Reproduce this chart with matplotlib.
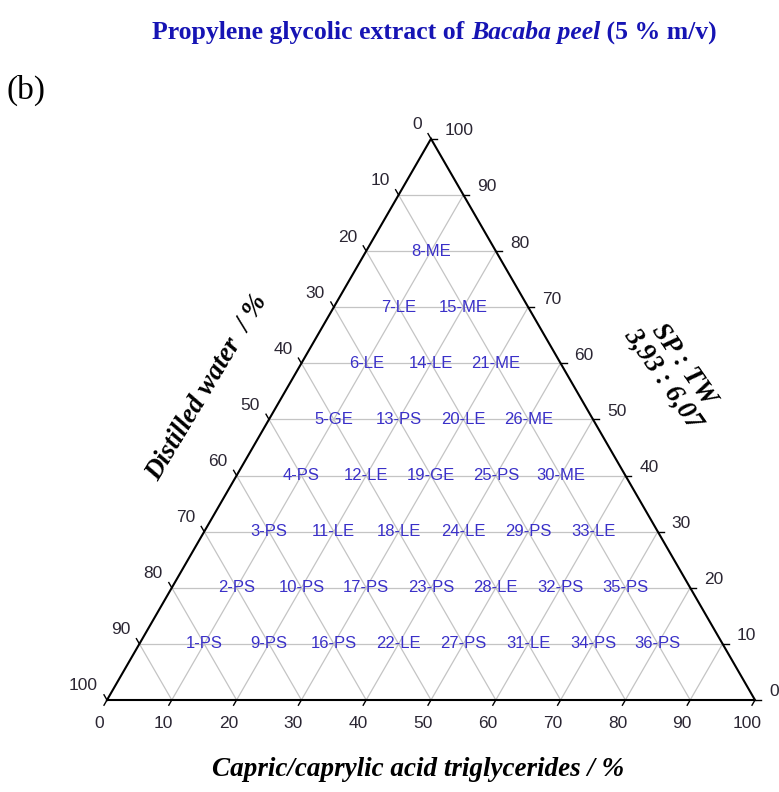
import numpy as np
import matplotlib
matplotlib.use("Agg")
import matplotlib.pyplot as plt

# ---------------- data ----------------
sample_ids = list(range(1, 37))
sp_tw = [10, 20, 30, 40, 50, 60, 70, 80,
         10, 20, 30, 40, 50, 60, 70,
         10, 20, 30, 40, 50, 60,
         10, 20, 30, 40, 50,
         10, 20, 30, 40,
         10, 20, 30,
         10, 20,
         10]
oil = [10] * 8 + [20] * 7 + [30] * 6 + [40] * 5 + [50] * 4 + [60] * 3 + [70] * 2 + [80]
water = [100 - s - o for s, o in zip(sp_tw, oil)]
phases = ["PS", "PS", "PS", "PS", "GE", "LE", "LE", "ME",
          "PS", "PS", "LE", "LE", "PS", "LE", "ME",
          "PS", "PS", "LE", "GE", "LE", "ME",
          "LE", "PS", "LE", "PS", "ME",
          "PS", "LE", "PS", "ME",
          "LE", "PS", "LE",
          "PS", "PS",
          "PS"]
tick_values = list(range(0, 101, 10))

title_parts = ("Propylene glycolic extract of ", "Bacaba peel", " (5 % m/v)")
panel_label = "(b)"
left_title = "Distilled water  / %"
right_title = "SP : TW\n3,93 : 6,07"
bottom_title = "Capric/caprylic acid triglycerides / %"

# ---------------- helpers ----------------
H = np.sqrt(3) / 2


def tern(top, right):
    """top = SP:TW %, right = oil %  -> cartesian"""
    top = np.asarray(top, float) / 100.0
    right = np.asarray(right, float) / 100.0
    return right + top / 2.0, top * H


W_PX, H_PX = 779, 792
fig = plt.figure(figsize=(W_PX / 100, H_PX / 100), dpi=100)
ax = fig.add_axes([0, 0, 1, 1])
scale = 648.0
x0_px, y0_px = 107.0, 700.0  # bottom-left vertex in pixels (from top)
ax.set_xlim(-x0_px / scale, (W_PX - x0_px) / scale)
ax.set_ylim(-(H_PX - y0_px) / scale, y0_px / scale)
ax.axis("off")

grid_c = "#c4c4c4"
tick_c = "#2b2633"
lab_c = "#3a30c8"

# grid lines
for v in tick_values[1:-1]:
    xa, ya = tern(v, 0)
    xb, yb = tern(v, 100 - v)
    ax.plot([xa, xb], [ya, yb], color=grid_c, lw=0.9, zorder=1)
    xa, ya = tern(0, v)
    xb, yb = tern(100 - v, v)
    ax.plot([xa, xb], [ya, yb], color=grid_c, lw=0.9, zorder=1)
    xa, ya = tern(0, 100 - v)
    xb, yb = tern(100 - v, 0)
    ax.plot([xa, xb], [ya, yb], color=grid_c, lw=0.9, zorder=1)

# triangle
tx, ty = tern([0, 0, 100, 0], [0, 100, 0, 0])
ax.plot(tx, ty, color="black", lw=1.5, zorder=3, solid_joinstyle="miter")

tl = 6.0 / scale
tick_fs = 12.5
for v in tick_values:
    x, y = tern(100 - v, 0)
    ax.plot([x, x - 0.5 * tl], [y, y + H * tl], color="black", lw=1.0, zorder=3)
    ax.annotate(str(v), (x, y), xytext=(-9, 14), textcoords="offset pixels",
                ha="right", va="center", fontsize=tick_fs, color=tick_c,
                family="Liberation Sans")
    x, y = tern(v, 100 - v)
    ax.plot([x, x + tl], [y, y], color="black", lw=1.0, zorder=3)
    ax.annotate(str(v), (x, y), xytext=(14, 8), textcoords="offset pixels",
                ha="left", va="center", fontsize=tick_fs, color=tick_c,
                family="Liberation Sans")
    x, y = tern(0, v)
    ax.plot([x, x - 0.5 * tl], [y, y - H * tl], color="black", lw=1.0, zorder=3)
    ax.annotate(str(v), (x, y), xytext=(-8, -24), textcoords="offset pixels",
                ha="center", va="center", fontsize=tick_fs, color=tick_c,
                family="Liberation Sans")

# sample labels
px, py = tern(sp_tw, oil)
for sid, ph, xx, yy in zip(sample_ids, phases, px, py):
    ax.text(xx, yy, f"{sid}-{ph}", ha="center", va="center", fontsize=12,
            color=lab_c, family="Liberation Sans", zorder=4)

serif = "Liberation Serif"
fig.text(207 / W_PX, 1 - 388 / H_PX, left_title, rotation=59, ha="center",
         va="center", fontsize=19.5, fontweight="bold", fontstyle="italic",
         family=serif)
fig.text(673 / W_PX, 1 - 372 / H_PX, right_title, rotation=-55, ha="center",
         va="center", fontsize=19.5, fontweight="bold", fontstyle="italic",
         family=serif, linespacing=1.0, multialignment="center")
fig.text(418 / W_PX, 1 - 770 / H_PX, bottom_title, ha="center", va="center",
         fontsize=19.5, fontweight="bold", fontstyle="italic", family=serif)

fig.text(6 / W_PX, 1 - 90 / H_PX, panel_label, ha="left", va="center",
         fontsize=24, family=serif)

# title with italic part
title_c = "#1614b4"
title_fs = 18.5
parts_style = ["normal", "italic", "normal"]
x_cur = 152
fig.canvas.draw()
renderer = fig.canvas.get_renderer()
for txt, sty in zip(title_parts, parts_style):
    t = fig.text(x_cur / W_PX, 1 - 33 / H_PX, txt, ha="left", va="center",
                 fontsize=title_fs, fontweight="bold", fontstyle=sty,
                 family=serif, color=title_c)
    x_cur = t.get_window_extent(renderer).x1

fig.savefig("out.png", dpi=100)
